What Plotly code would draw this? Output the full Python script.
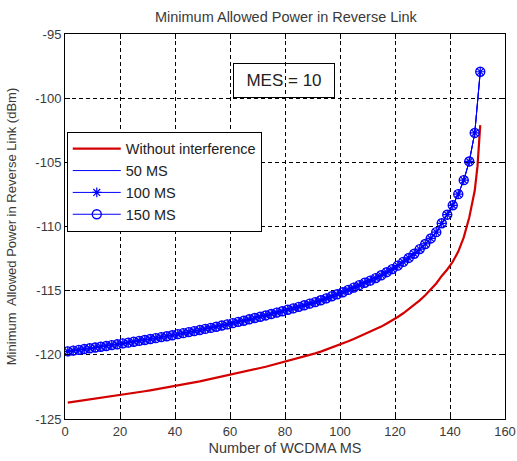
import plotly.graph_objects as go

# ---------------- data ----------------
ms_x = list(range(1, 152, 2))

ms_power = [
    -119.73, -119.67, -119.61, -119.55, -119.49, -119.43, -119.37, -119.31, -119.24, -119.18,
    -119.11, -119.05, -118.98, -118.91, -118.84, -118.77, -118.70, -118.62, -118.55, -118.47,
    -118.39, -118.31, -118.23, -118.15, -118.07, -117.98, -117.90, -117.81, -117.72, -117.63,
    -117.53, -117.43, -117.34, -117.23, -117.13, -117.03, -116.93, -116.82, -116.71, -116.60,
    -116.49, -116.38, -116.26, -116.14, -116.01, -115.89, -115.75, -115.60, -115.44, -115.28,
    -115.12, -114.94, -114.76, -114.57, -114.38, -114.22, -114.02, -113.80, -113.56, -113.32,
    -113.05, -112.76, -112.45, -112.12, -111.76, -111.36, -110.93, -110.44, -109.75, -109.08,
    -108.35, -107.48, -106.39, -104.93, -102.71, -97.94,
]
ms50_power = ms_power
ms100_power = ms_power
ms150_power = ms_power

red_x = list(range(1, 150, 2)) + [150, 151]
red_power = [
    -123.73, -123.67, -123.61, -123.55, -123.49, -123.43, -123.37, -123.31, -123.24, -123.18,
    -123.11, -123.05, -122.98, -122.91, -122.84, -122.77, -122.70, -122.62, -122.55, -122.47,
    -122.39, -122.31, -122.23, -122.15, -122.07, -121.98, -121.90, -121.81, -121.72, -121.63,
    -121.53, -121.43, -121.34, -121.23, -121.13, -121.03, -120.93, -120.82, -120.71, -120.60,
    -120.49, -120.38, -120.26, -120.14, -120.01, -119.89, -119.75, -119.60, -119.44, -119.28,
    -119.12, -118.94, -118.76, -118.57, -118.38, -118.22, -118.02, -117.80, -117.56, -117.32,
    -117.05, -116.76, -116.45, -116.12, -115.76, -115.36, -114.93, -114.44, -113.85, -113.35,
    -112.75, -111.95, -110.85, -109.30, -107.20, -105.30, -102.10,
]

x_ticks = [0, 20, 40, 60, 80, 100, 120, 140, 160]
y_ticks = [-125, -120, -115, -110, -105, -100, -95]
y_tick_labels = ["-125", "-120", "-115", "-110", "-105", "-100", "-95"]

BLUE = "#0000ff"
RED = "#d40000"
FONT = "Liberation Sans, Arial, sans-serif"
TXT = "#3a3a3a"

fig = go.Figure()
fig.add_trace(go.Scatter(x=red_x, y=red_power, mode="lines", name="Without interference",
                         line=dict(color=RED, width=2.2)))
fig.add_trace(go.Scatter(x=ms_x, y=ms50_power, mode="lines", name="50 MS",
                         line=dict(color=BLUE, width=1)))
fig.add_trace(go.Scatter(x=ms_x, y=ms100_power, mode="lines+markers", name="100 MS",
                         line=dict(color=BLUE, width=1),
                         marker=dict(symbol="asterisk-open", size=8, color=BLUE,
                                     line=dict(color=BLUE, width=1.2))))
fig.add_trace(go.Scatter(x=ms_x, y=ms150_power, mode="lines+markers", name="150 MS",
                         line=dict(color=BLUE, width=1),
                         marker=dict(symbol="circle-open", size=9, color=BLUE,
                                     line=dict(color=BLUE, width=1.4))))

axis_common = dict(
    showline=True, linecolor="black", linewidth=1, mirror="allticks",
    ticks="inside", ticklen=5, tickcolor="black",
    showgrid=True, gridcolor="black", gridwidth=1, griddash="4px,3px",
    zeroline=False, tickfont=dict(family=FONT, size=13, color=TXT),
    automargin=False,
)

fig.update_xaxes(range=[0, 160], tickvals=x_ticks,
                 title=dict(text="Number of WCDMA MS", font=dict(family=FONT, size=14.5, color=TXT),
                            standoff=5),
                 **axis_common)
fig.update_yaxes(range=[-125, -95], tickvals=y_ticks, ticktext=y_tick_labels,
                 title=dict(text="Minimum  Allowed Power in Reverse Link (dBm)",
                            font=dict(family=FONT, size=13, color=TXT), standoff=15),
                 **axis_common)

fig.add_annotation(x=79.6, y=-98.65, xref="x", yref="y", text="MES = 10", showarrow=False,
                   font=dict(family=FONT, size=17, color="#222"),
                   bordercolor="black", borderwidth=1, width=98, height=31)

fig.update_layout(
    width=517, height=461,
    margin=dict(l=65, r=12, t=34, b=42, autoexpand=False),
    paper_bgcolor="white", plot_bgcolor="white",
    title=dict(text="Minimum Allowed Power in Reverse Link", x=0.553, xanchor="center",
               y=0.963, yanchor="middle", font=dict(family=FONT, size=14.5, color=TXT)),
    showlegend=True,
    legend=dict(x=0.004, y=0.746, xanchor="left", yanchor="top",
                bgcolor="white", bordercolor="black", borderwidth=1,
                font=dict(family=FONT, size=14.5, color="#222"),
                tracegroupgap=0, itemwidth=48),
)

fig.write_html("out.html", config={"displayModeBar": False},
               post_script="document.body.style.margin='0';document.body.style.padding='0';")
